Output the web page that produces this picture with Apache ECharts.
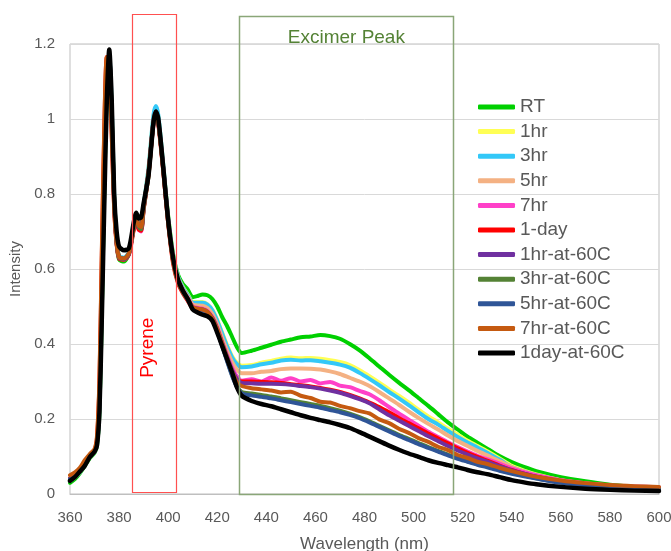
<!DOCTYPE html>
<html>
<head>
<meta charset="utf-8">
<script src="https://cdn.jsdelivr.net/npm/echarts@6/dist/echarts.min.js"></script>
<style>html,body{margin:0;padding:0;background:#fff}#c{width:671px;height:551px}</style>
</head>
<body>
<div id="c"></div>
<script>
// Wavelength (nm)
const wavelengths = [
  360,362,364,366,368,370,371,372,373,374,375,376,377,378,379,380,
  382,384,386,387,388,389,390,392,394,395,396,398,400,
  402,404,406,408,410,412,414,416,418,420,422,424,426,428,430,
  434,438,442,446,450,454,458,462,466,470,474,478,482,486,490,494,498,502,506,510,514,518,522,526,530,
  535,540,545,550,560,570,580,590,600];

const RT = [
  0.030,0.040,0.055,0.075,0.095,0.110,0.130,0.220,0.500,0.820,1.070,1.160,1.010,0.780,0.670,0.625,
  0.620,0.640,0.710,0.730,0.710,0.705,0.760,0.850,0.990,1.015,0.990,0.870,0.740,
  0.640,0.585,0.560,0.545,0.525,0.528,0.532,0.530,0.520,0.500,0.472,0.448,0.420,0.392,0.376,
  0.382,0.390,0.398,0.406,0.412,0.418,0.420,0.424,0.421,0.414,0.400,0.383,0.362,0.340,0.318,0.297,0.277,0.256,0.235,0.213,0.191,0.172,0.153,0.137,0.121,
  0.101,0.085,0.072,0.061,0.045,0.034,0.025,0.019,0.015];
const hr1 = [
  0.035,0.045,0.058,0.078,0.098,0.112,0.130,0.220,0.500,0.830,1.080,1.165,1.030,0.790,0.680,0.635,
  0.628,0.645,0.718,0.738,0.718,0.714,0.768,0.868,1.005,1.030,1.005,0.878,0.742,
  0.636,0.580,0.552,0.532,0.512,0.512,0.512,0.506,0.491,0.464,0.430,0.397,0.368,0.350,0.342,
  0.344,0.350,0.355,0.361,0.364,0.362,0.363,0.361,0.357,0.352,0.344,0.330,0.314,0.297,0.279,0.262,0.244,0.225,0.207,0.191,0.174,0.158,0.142,0.128,0.114,
  0.095,0.075,0.062,0.052,0.037,0.028,0.022,0.018,0.015];
const hr3 = [
  0.035,0.045,0.058,0.078,0.098,0.112,0.130,0.220,0.500,0.830,1.080,1.170,1.040,0.800,0.680,0.635,
  0.630,0.645,0.720,0.740,0.720,0.715,0.770,0.870,1.010,1.035,1.010,0.880,0.740,
  0.635,0.580,0.550,0.530,0.510,0.510,0.510,0.505,0.490,0.462,0.428,0.394,0.365,0.346,0.338,
  0.340,0.346,0.350,0.356,0.358,0.356,0.357,0.354,0.350,0.345,0.337,0.323,0.307,0.290,0.272,0.255,0.237,0.218,0.200,0.185,0.168,0.152,0.137,0.124,0.110,
  0.092,0.072,0.060,0.050,0.036,0.027,0.021,0.017,0.014];
const hr5 = [
  0.038,0.047,0.060,0.080,0.100,0.113,0.135,0.240,0.540,0.860,1.100,1.165,1.010,0.785,0.675,0.632,
  0.628,0.642,0.715,0.736,0.716,0.712,0.765,0.860,0.995,1.020,0.995,0.872,0.735,
  0.630,0.575,0.546,0.526,0.505,0.503,0.502,0.496,0.480,0.452,0.416,0.382,0.352,0.332,0.322,
  0.322,0.326,0.328,0.333,0.335,0.335,0.334,0.332,0.327,0.320,0.310,0.300,0.288,0.272,0.255,0.238,0.220,0.203,0.187,0.172,0.156,0.141,0.128,0.115,0.103,
  0.088,0.072,0.060,0.050,0.036,0.027,0.021,0.018,0.015];
const hr7 = [
  0.040,0.050,0.062,0.082,0.100,0.114,0.140,0.260,0.580,0.900,1.120,1.160,0.990,0.770,0.670,0.630,
  0.625,0.640,0.710,0.730,0.705,0.700,0.760,0.855,0.990,1.012,0.990,0.868,0.730,
  0.625,0.570,0.542,0.522,0.500,0.496,0.494,0.488,0.472,0.444,0.406,0.370,0.338,0.314,0.302,
  0.306,0.300,0.311,0.302,0.309,0.300,0.304,0.295,0.299,0.289,0.285,0.275,0.266,0.250,0.232,0.215,0.198,0.182,0.166,0.152,0.138,0.125,0.113,0.102,0.093,
  0.081,0.068,0.058,0.050,0.037,0.029,0.023,0.020,0.018];
const day1 = [
  0.042,0.052,0.064,0.084,0.102,0.116,0.150,0.300,0.650,0.980,1.165,1.150,0.960,0.760,0.665,0.628,
  0.625,0.638,0.705,0.728,0.705,0.702,0.758,0.850,0.985,1.008,0.985,0.860,0.722,
  0.615,0.562,0.535,0.515,0.494,0.490,0.487,0.480,0.464,0.435,0.398,0.360,0.328,0.306,0.300,
  0.300,0.299,0.298,0.296,0.293,0.290,0.287,0.283,0.278,0.272,0.264,0.255,0.244,0.232,0.218,0.203,0.189,0.175,0.161,0.148,0.135,0.122,0.110,0.099,0.089,
  0.076,0.064,0.054,0.046,0.034,0.025,0.018,0.013,0.011];
const hr1at60 = [
  0.040,0.050,0.062,0.082,0.100,0.114,0.135,0.240,0.540,0.860,1.100,1.165,1.010,0.780,0.672,0.630,
  0.626,0.640,0.712,0.732,0.712,0.708,0.762,0.855,0.990,1.012,0.990,0.866,0.728,
  0.622,0.567,0.540,0.520,0.498,0.494,0.492,0.486,0.470,0.441,0.403,0.366,0.332,0.307,0.296,
  0.295,0.294,0.294,0.293,0.291,0.288,0.285,0.281,0.276,0.270,0.262,0.253,0.242,0.226,0.210,0.196,0.182,0.168,0.154,0.141,0.128,0.116,0.105,0.095,0.086,
  0.074,0.063,0.054,0.046,0.034,0.026,0.020,0.017,0.014];
const hr3at60 = [
  0.038,0.047,0.060,0.080,0.100,0.113,0.135,0.240,0.540,0.860,1.100,1.165,1.010,0.785,0.675,0.632,
  0.628,0.642,0.712,0.734,0.712,0.706,0.762,0.856,0.992,1.015,0.992,0.868,0.730,
  0.622,0.566,0.538,0.518,0.496,0.492,0.490,0.484,0.467,0.436,0.396,0.356,0.318,0.288,0.272,
  0.268,0.264,0.260,0.255,0.250,0.245,0.240,0.235,0.229,0.222,0.214,0.205,0.194,0.182,0.170,0.158,0.147,0.136,0.125,0.115,0.105,0.096,0.087,0.080,0.073,
  0.064,0.056,0.049,0.042,0.031,0.024,0.019,0.016,0.014];
const hr5at60 = [
  0.040,0.049,0.061,0.081,0.100,0.114,0.138,0.250,0.560,0.880,1.110,1.165,1.000,0.780,0.672,0.632,
  0.628,0.642,0.714,0.736,0.716,0.712,0.766,0.860,0.996,1.020,0.996,0.870,0.732,
  0.624,0.568,0.540,0.518,0.496,0.490,0.488,0.482,0.465,0.434,0.394,0.354,0.316,0.286,0.268,
  0.263,0.259,0.255,0.250,0.245,0.240,0.235,0.230,0.224,0.218,0.211,0.202,0.191,0.179,0.167,0.155,0.144,0.133,0.123,0.113,0.103,0.094,0.086,0.078,0.071,
  0.062,0.054,0.047,0.041,0.030,0.023,0.018,0.015,0.013];
const hr7at60 = [
  0.050,0.058,0.070,0.090,0.106,0.120,0.155,0.310,0.660,0.990,1.165,1.150,0.960,0.760,0.668,0.632,
  0.628,0.642,0.712,0.738,0.716,0.712,0.765,0.858,0.992,1.012,0.990,0.862,0.724,
  0.620,0.566,0.540,0.520,0.498,0.494,0.492,0.486,0.468,0.440,0.402,0.363,0.328,0.298,0.288,
  0.282,0.279,0.276,0.271,0.273,0.262,0.256,0.246,0.244,0.235,0.229,0.221,0.215,0.199,0.189,0.174,0.163,0.149,0.139,0.126,0.117,0.104,0.096,0.086,0.080,
  0.070,0.061,0.053,0.046,0.036,0.029,0.024,0.021,0.019];
const day1at60 = [
  0.035,0.045,0.060,0.075,0.098,0.113,0.130,0.220,0.480,0.780,1.050,1.185,1.050,0.800,0.700,0.660,
  0.650,0.655,0.725,0.750,0.735,0.738,0.775,0.850,0.990,1.020,1.000,0.870,0.730,
  0.630,0.572,0.542,0.520,0.492,0.484,0.478,0.474,0.462,0.430,0.395,0.360,0.325,0.285,0.262,
  0.248,0.240,0.234,0.226,0.218,0.210,0.203,0.197,0.191,0.184,0.176,0.165,0.153,0.141,0.129,0.118,0.108,0.099,0.090,0.083,0.077,0.071,0.064,0.058,0.053,
  0.045,0.037,0.031,0.026,0.019,0.014,0.011,0.009,0.008];

const seriesNames = ['RT','1hr','3hr','5hr','7hr','1-day','1hr-at-60C','3hr-at-60C','5hr-at-60C','7hr-at-60C','1day-at-60C'];
const seriesValues = [RT, hr1, hr3, hr5, hr7, day1, hr1at60, hr3at60, hr5at60, hr7at60, day1at60];
const seriesColors = ['#00d000','#ffff55','#33c8f8','#f4b183','#ff40c8','#ff0000','#7030a0','#548235','#2f5597','#c55a11','#000000'];

// annotation boxes: [xMin, xMax, yMin, yMax] in data units
const pyreneBox = [385.2, 403.1, 0.005, 1.28];
const excimerBox = [428.8, 516.2, 0.0, 1.275];
const pyreneLabelAt = [391.6, 0.39];
const excimerLabelAt = [472.6, 1.216];

const FONT = 'Liberation Sans';
const chart = echarts.init(document.getElementById('c'), null, {renderer: 'canvas'});

const series = seriesNames.map((n, i) => ({
  name: n,
  type: 'line',
  data: wavelengths.map((w, j) => [w, seriesValues[i][j]]),
  showSymbol: false,
  smooth: 0.25,
  lineStyle: {width: i === 10 ? 4.5 : 4, color: seriesColors[i], cap: 'round', join: 'round'},
  itemStyle: {color: seriesColors[i]},
  z: 2 + i,
  animation: false
}));

chart.setOption({
  animation: false,
  textStyle: {fontFamily: FONT},
  grid: {left: 70, right: 12, top: 44, bottom: 57, containLabel: false, outerBoundsMode: 'none',
         show: true, borderColor: '#bfbfbf', borderWidth: 1},
  xAxis: {
    type: 'value', min: 360, max: 600, interval: 20,
    name: 'Wavelength (nm)', nameLocation: 'middle', nameGap: 42,
    nameTextStyle: {fontSize: 17, color: '#595959', fontFamily: FONT},
    axisLine: {show: true, lineStyle: {color: '#bfbfbf', width: 1}},
    axisTick: {show: false},
    splitLine: {show: false},
    axisLabel: {fontSize: 15, color: '#595959', margin: 16, fontFamily: FONT}
  },
  yAxis: {
    type: 'value', min: 0, max: 1.2, interval: 0.2,
    name: 'Intensity', nameLocation: 'middle', nameGap: 46, nameRotate: 90,
    nameTextStyle: {fontSize: 15, color: '#595959', fontFamily: FONT},
    axisLine: {show: false},
    axisTick: {show: false},
    splitLine: {show: true, lineStyle: {color: '#d9d9d9', width: 1}},
    axisLabel: {fontSize: 15, color: '#595959', margin: 15, fontFamily: FONT}
  },
  legend: {
    orient: 'vertical', left: 478, top: 97, padding: 0,
    itemWidth: 37, itemHeight: 5, itemGap: 4.6,
    icon: 'roundRect',
    textStyle: {fontSize: 19, color: '#595959', fontFamily: FONT, lineHeight: 20, height: 20, padding: [0,0,0,0]},
    data: seriesNames
  },
  series: series
});

function px(p) { return chart.convertToPixel({gridIndex: 0}, p); }
const pb0 = px([pyreneBox[0], pyreneBox[3]]), pb1 = px([pyreneBox[1], pyreneBox[2]]);
const eb0 = px([excimerBox[0], excimerBox[3]]), eb1 = px([excimerBox[1], excimerBox[2]]);
const pl = px(pyreneLabelAt), el = px(excimerLabelAt);

chart.setOption({
  graphic: [
    {type: 'rect', z: 100, shape: {x: Math.round(pb0[0]) + 0.5, y: Math.round(pb0[1]) + 0.5, width: Math.round(pb1[0] - pb0[0]), height: Math.round(pb1[1] - pb0[1])},
     style: {fill: 'none', stroke: '#ff5050', lineWidth: 1.2}},
    {type: 'rect', z: 100, shape: {x: Math.round(eb0[0]) + 0.5, y: Math.round(eb0[1]) + 0.5, width: Math.round(eb1[0] - eb0[0]), height: Math.round(eb1[1] - eb0[1])},
     style: {fill: 'none', stroke: '#8aa678', lineWidth: 1.5}},
    {type: 'text', z: 101, x: pl[0], y: pl[1], rotation: Math.PI / 2,
     style: {text: 'Pyrene', fill: '#ff0000', font: '19px "' + FONT + '"', textAlign: 'center', textVerticalAlign: 'middle'}},
    {type: 'text', z: 101, x: el[0], y: el[1],
     style: {text: 'Excimer Peak', fill: '#548235', font: '19px "' + FONT + '"', textAlign: 'center', textVerticalAlign: 'middle'}}
  ]
});
</script>
</body>
</html>
